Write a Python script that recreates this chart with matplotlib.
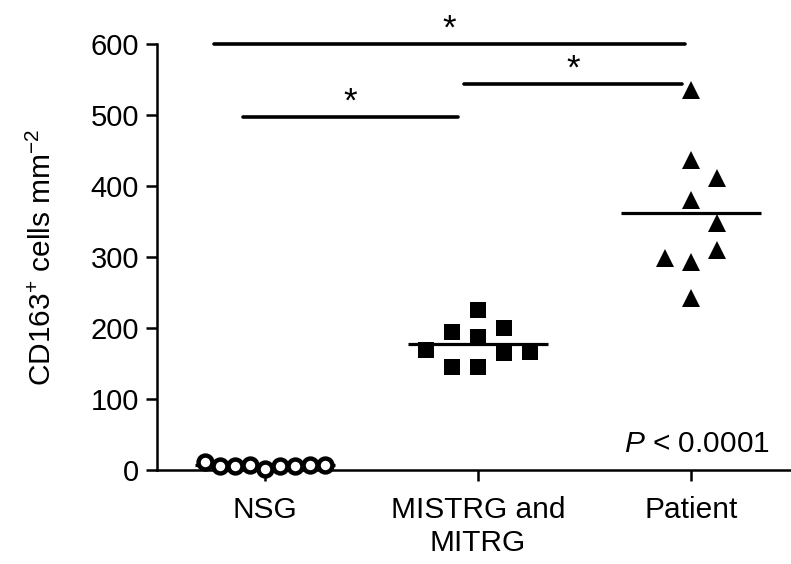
import matplotlib
matplotlib.use('Agg')
import matplotlib.pyplot as plt
import numpy as np

plt.rcParams['font.family'] = ['Liberation Sans', 'DejaVu Sans']
plt.rcParams['mathtext.fontset'] = 'custom'
plt.rcParams['mathtext.rm'] = 'Liberation Sans'
plt.rcParams['mathtext.it'] = 'Liberation Sans:italic'

# data (cells per mm^2)
groups = ['NSG', 'MISTRG and\nMITRG', 'Patient']
nsg = [2, 6, 7, 6, 6, 7, 6, 7, 11]
mistrg = [225, 200, 194, 187, 166, 169, 165, 145, 145]
patient = [535, 437, 411, 380, 348, 293, 310, 299, 242]
# significance bars: (x start, x end, height)
sig_bars = [(0.76, 2.97, 600), (1.934, 2.958, 544), (0.897, 1.906, 497)]
p_text = '$P$ < 0.0001'

fig = plt.figure(figsize=(7.91, 5.64), dpi=100)
ax = fig.add_axes([0.1985, 0.1667, 0.8015, 0.7553])
ax.set_xlim(0.493, 3.47)
ax.set_ylim(0, 600)


def swarm(x0, values, step_px, min_dist):
    # simple beeswarm in pixel space, candidates 0, +1, -1, +2, -2 ...
    pts = ax.transData.transform(np.column_stack([np.full(len(values), x0), values]))
    xc = pts[0, 0]
    cands = [0]
    for k in range(1, 12):
        cands += [k, -k]
    placed = []
    for y in pts[:, 1]:
        for k in cands:
            x = xc + k * step_px
            if all(np.hypot(x - px, y - py) >= min_dist for px, py in placed):
                break
        placed.append((x, y))
    return ax.transData.inverted().transform(np.array(placed))[:, 0]


styles = [dict(marker='o', ms=10, mfc='white', mec='black', mew=3.2),
          dict(marker='s', ms=12, mfc='black', mec='black', mew=0),
          dict(marker='^', ms=12.5, mfc='black', mec='black', mew=0)]
steps = [15, 26, 26]
dists = [14, 24.5, 24.5]

for i, vals in enumerate([nsg, mistrg, patient]):
    x0 = i + 1
    xs = swarm(x0, vals, steps[i], dists[i])
    m = np.mean(vals)
    ax.plot([x0 - 0.33, x0 + 0.33], [m, m], color='black', lw=2.3, zorder=2,
            solid_capstyle='butt', clip_on=False)
    ax.plot(xs, vals, ls='none', zorder=3, clip_on=False, **styles[i])

for x1, x2, y in sig_bars:
    ax.plot([x1, x2], [y, y], color='black', lw=2.6, solid_capstyle='round',
            clip_on=False)
    ax.annotate('*', xy=((x1 + x2) / 2, y), xytext=(0, 4), textcoords='offset points',
                ha='center', va='baseline', fontsize=25, annotation_clip=False)

ax.text(3.37, 25, p_text, ha='right', va='baseline', fontsize=21.5)

ax.spines['top'].set_visible(False)
ax.spines['right'].set_visible(False)
for s in ['left', 'bottom']:
    ax.spines[s].set_linewidth(1.8)
ax.set_xticks([1, 2, 3])
ax.set_xticklabels(groups, fontsize=21.5, linespacing=1.2)
ax.set_yticks(range(0, 601, 100))
ax.tick_params(axis='y', labelsize=21, length=8, width=1.8, pad=5)
ax.tick_params(axis='x', length=8, width=1.8, pad=11)
ax.set_ylabel('CD163$^{+}$ cells mm$^{-2}$', fontsize=21.5, labelpad=24)

fig.savefig('out.png', dpi=100)
